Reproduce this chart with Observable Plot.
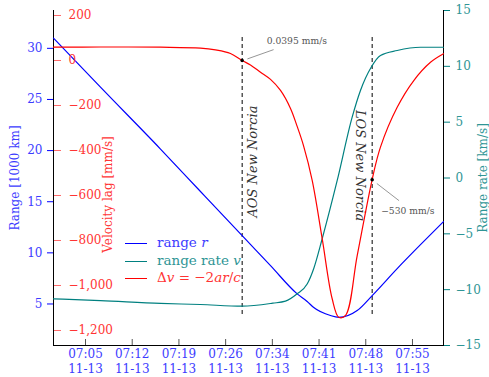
<!DOCTYPE html>
<html><head><meta charset="utf-8">
<script src="https://cdn.jsdelivr.net/npm/d3@7"></script>
<script src="https://cdn.jsdelivr.net/npm/@observablehq/plot@0.6"></script>
<style>
body{margin:0;background:#fff;}
#chart{position:relative;width:489px;height:377px;overflow:hidden;font-family:"DejaVu Serif",serif;}
#chart svg{position:absolute;left:0;top:0;}
.lg{position:absolute;left:125px;font-size:13.5px;line-height:1;white-space:nowrap;}
.lg span.sw{display:inline-block;width:22px;height:0;border-top:1.5px solid;vertical-align:middle;margin-right:10px;}
</style></head>
<body>
<div id="chart"></div>
<script>
// time in minutes after 07:00 (2024-11-13)
const rangeTime  = [0.10, 7.29, 16.48, 22.60, 28.98, 33.32, 37.40, 38.93, 39.94, 42.50, 43.77, 46.59, 48.88, 52.71, 56.28, 59.80];
const rangeValue = [31.0, 26.2, 20.15, 16.0, 11.68, 8.75, 5.99, 5.25, 4.65, 3.87, 3.70, 4.36, 5.82, 8.46, 10.8, 13.05];

const rateTime  = [0.10, 7.29, 16.48, 22.60, 28.98, 33.67, 35.61, 37.40, 38.93, 39.94, 41.23, 43.53, 45.82, 47.09, 48.73, 50.15, 52.71, 56.28, 59.80];
const rateValue = [-10.82, -10.98, -11.23, -11.33, -11.48, -11.21, -11.03, -10.37, -9.5, -8.1, -5.44, -0.22, 5.45, 7.84, 9.92, 10.97, 11.42, 11.71, 11.71];

const lagTime  = [0.10, 7.29, 16.48, 22.60, 24.90, 27.19, 28.98, 30.25, 31.79, 33.32, 34.85, 36.38, 37.40, 38.37, 39.70, 41.23, 42.76, 43.77, 44.80, 46.59, 48.88, 50.15, 52.71, 55.25, 57.81, 59.80];
const lagValue = [59, 60, 59, 55, 47, 31, 0.04, -20, -52, -84, -133, -213, -293, -378, -533, -792, -1059, -1141, -1133, -867, -529, -385, -208, -89, -8, 30];

const xTickMinutes = [5.0, 12.15, 19.3, 26.45, 33.6, 40.75, 47.9, 55.05];
const xTickLabels = ["07:05\n11-13", "07:12\n11-13", "07:19\n11-13", "07:26\n11-13", "07:34\n11-13", "07:41\n11-13", "07:48\n11-13", "07:55\n11-13"];
const rangeTicks = [5, 10, 15, 20, 25, 30];
const lagTicks = [-1200, -1000, -800, -600, -400, -200, 0, 200];
const rateTicks = [-15, -10, -5, 0, 5, 10, 15];

const aosTime = 28.98, losTime = 48.88;
const aosLag = 0.0395, losLag = -530;

const W = 489, H = 377;
const M = {marginLeft: 53, marginRight: 46, marginTop: 10, marginBottom: 32};
const xDomain = [0.1, 59.8];
const rangeDomain = [0.94, 33.7];
const lagDomain = [-1266.7, 222.2];
const rateDomain = [-15, 15];
const st = {background: "transparent", overflow: "visible", fontFamily: "DejaVu Serif", fontSize: "12px"};
const BLUE = "blue", BLUE_T = "#3c3cff", RED = "red", RED_T = "#ff3434", TEAL = "#008080", TEAL_T = "#2f9595";

const zip = (a, b) => a.map((t, i) => ({t, v: b[i]}));
const leader = {draw(ctx, l) { ctx.moveTo(0, 0); ctx.lineTo(0, -l); }};
const chart = document.getElementById("chart");

// Layer 1: range (left axis), x axis, frame, AOS/LOS
chart.append(Plot.plot({
  width: W, height: H, ...M, style: st,
  x: {domain: xDomain}, y: {domain: rangeDomain},
  marks: [
    Plot.frame({anchor: "left", stroke: "black"}),
    Plot.frame({anchor: "bottom", stroke: "black"}),
    Plot.frame({anchor: "right", stroke: "black"}),
    Plot.axisX(xTickMinutes, {anchor: "bottom", tickSize: -6, tickPadding: 9, stroke: "#555", fill: BLUE_T, lineHeight: 1.17,
      tickFormat: d => xTickLabels[xTickMinutes.indexOf(d)], label: null}),
    Plot.axisY(rangeTicks, {anchor: "left", tickSize: 6, tickPadding: 5, stroke: BLUE, fill: BLUE_T, label: null}),
    Plot.text(["Range [1000 km]"], {frameAnchor: "left", textAnchor: "middle", dx: -38, rotate: -90, fill: BLUE_T, fontSize: 12}),
    Plot.ruleX([aosTime, losTime], {stroke: "black", strokeDasharray: "4,3", insetTop: 27, insetBottom: 30}),
    Plot.line(zip(rangeTime, rangeValue), {x: "t", y: "v", stroke: BLUE, strokeWidth: 1.2, curve: "monotone-x"}),
    Plot.text([{t: aosTime, s: "AOS New Norcia"}], {x: "t", text: "s", rotate: -90, dx: 11, dy: -16.5, fontStyle: "italic", fontSize: 13, fill: "#333"}),
    Plot.text([{t: losTime, s: "LOS New Norcia"}], {x: "t", text: "s", rotate: 90, dx: -12, dy: -12.5, fontStyle: "italic", fontSize: 13, fill: "#333"})
  ]
}));

// Layer 2a: velocity lag axis (inside, next to left axis)
chart.append(Plot.plot({
  width: W, height: H, marginLeft: 0, marginRight: W - 53, marginTop: 10, marginBottom: 32, style: st,
  y: {domain: lagDomain},
  marks: [
    Plot.axisY(lagTicks, {anchor: "right", tickSize: 7, tickPadding: 8, stroke: "#ff6a6a", fill: RED_T, tickFormat: d3.format(","), label: null})
  ]
}));

// Layer 2b: range rate (right axis)
chart.append(Plot.plot({
  width: W, height: H, ...M, style: st,
  x: {domain: xDomain, axis: null}, y: {domain: rateDomain},
  marks: [
    Plot.axisY(rateTicks, {anchor: "right", tickSize: 6, tickPadding: 6, stroke: TEAL, fill: TEAL_T, label: null}),
    Plot.text(["Range rate [km/s]"], {frameAnchor: "right", textAnchor: "middle", dx: 40, rotate: -90, fill: TEAL_T, fontSize: 12}),
    Plot.line(zip(rateTime, rateValue), {x: "t", y: "v", stroke: TEAL, strokeWidth: 1.2, curve: "monotone-x"})
  ]
}));

// Layer 3: velocity lag line + annotations
chart.append(Plot.plot({
  width: W, height: H, ...M, style: st,
  x: {domain: xDomain, axis: null}, y: {domain: lagDomain, axis: null},
  marks: [
    Plot.text(["Velocity lag [mm/s]"], {frameAnchor: "left", textAnchor: "middle", dx: 55, dy: 16.5, rotate: -90, fill: RED_T, fontSize: 12}),
    Plot.line(zip(lagTime, lagValue), {x: "t", y: "v", stroke: RED, strokeWidth: 1.2, curve: "catmull-rom"}),
    Plot.dot([{t: aosTime, v: aosLag}, {t: losTime, v: losLag}], {x: "t", y: "v", r: 1.8, fill: "black"}),
    Plot.vector([{t: aosTime, v: aosLag}], {x: "t", y: "v", anchor: "start", length: 27, rotate: 70.5, dx: 5.6, dy: -1.7, shape: leader, stroke: "#888", strokeWidth: 0.8}),
    Plot.vector([{t: losTime, v: losLag}], {x: "t", y: "v", anchor: "start", length: 27.3, rotate: 127.7, dx: 5, dy: 4, shape: leader, stroke: "#888", strokeWidth: 0.8}),
    Plot.text([{t: aosTime, v: aosLag, s: `${aosLag} mm/s`}], {x: "t", y: "v", text: "s", textAnchor: "start", dx: 24.5, dy: -19, fontSize: 9.2, fill: "#555"}),
    Plot.text([{t: losTime, v: losLag, s: `${d3.format("")(losLag)} mm/s`}], {x: "t", y: "v", text: "s", textAnchor: "start", dx: 9, dy: 31, fontSize: 9.2, fill: "#555"})
  ]
}));

// Legend
const legendItems = [
  {html: 'range <i>r</i>', color: BLUE, text: BLUE_T, top: 243.3},
  {html: 'range rate <i>v</i>', color: TEAL, text: TEAL_T, top: 261},
  {html: 'Δ<i>v</i> = −2<i>ar</i>/<i>c</i>', color: RED, text: RED_T, top: 278.3}
];
for (const it of legendItems) {
  const d = document.createElement("div");
  d.className = "lg";
  d.style.top = (it.top - 7) + "px";
  d.style.color = it.text;
  d.innerHTML = `<span class="sw" style="border-color:${it.color}"></span>${it.html}`;
  chart.append(d);
}
</script>
</body></html>
